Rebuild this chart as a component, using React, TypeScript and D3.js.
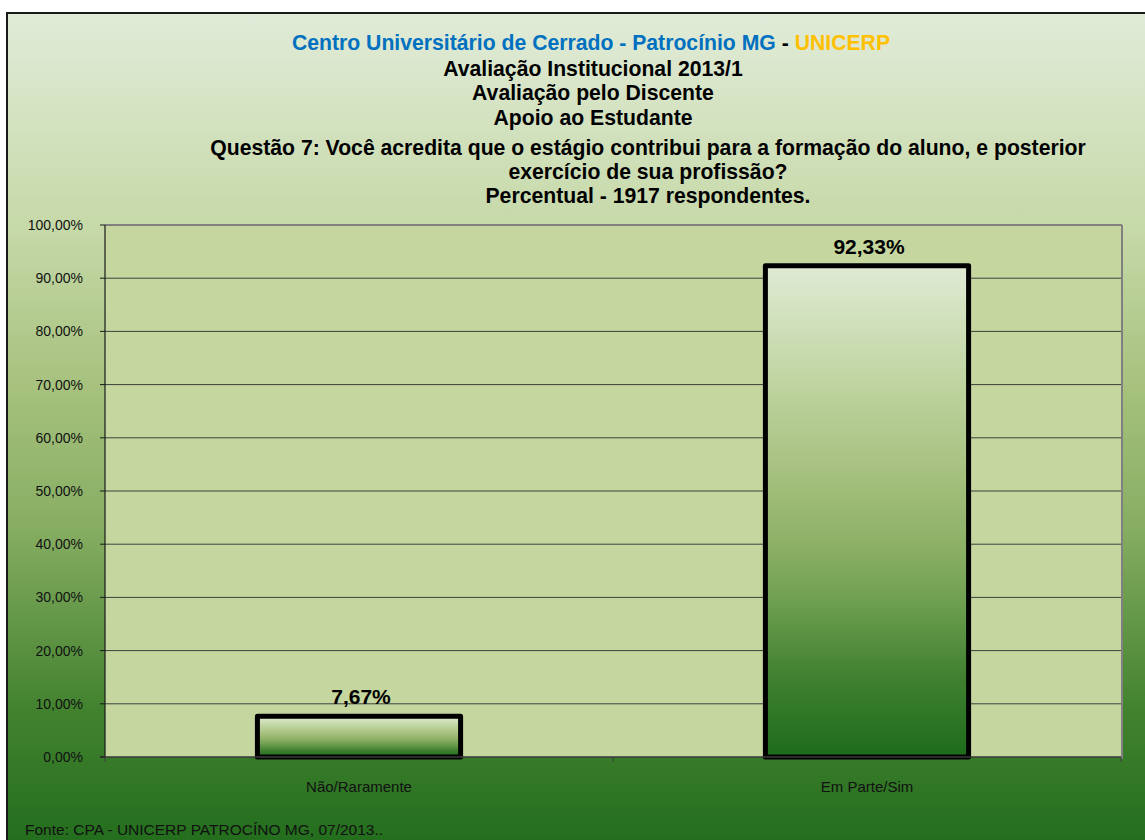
import React from "react";
import * as d3 from "d3";

const categories = ["Não/Raramente", "Em Parte/Sim"];
const values = [7.67, 92.33];
const yTicks = [0, 10, 20, 30, 40, 50, 60, 70, 80, 90, 100];
const titleHeader = ["Avaliação Institucional 2013/1", "Avaliação pelo Discente", "Apoio ao Estudante"];
const questionLines = [
  "Questão 7: Você acredita que o estágio contribui para a formação do aluno, e posterior",
  "exercício de sua profissão?",
  "Percentual - 1917 respondentes.",
];
const footer = "Fonte: CPA - UNICERP PATROCÍNO MG, 07/2013..";

const W = 1145;
const H = 840;
const plot = { left: 105, right: 1121, top: 225, bottom: 757 };
const FONT = "'Liberation Sans', Arial, sans-serif";
const TITLE_SIZE = 21.2;

const fmt = (v: number) => v.toFixed(2).replace(".", ",") + "%";

export default function App() {
  const x = d3
    .scaleBand<string>()
    .domain(categories)
    .range([plot.left, plot.right])
    .paddingInner(0.6)
    .paddingOuter(0.3);
  const y = d3.scaleLinear().domain([0, 100]).range([plot.bottom, plot.top]);
  const step = x.step();
  const catBounds = [plot.left, ...categories.map((c) => (x(c) as number) - step * 0.3 + step)];

  return (
    <svg
      width={W}
      height={H}
      style={{ position: "absolute", left: 0, top: 0, display: "block" }}
      fontFamily={FONT}
    >
      <defs>
        <linearGradient id="bg" x1="0" y1="0" x2="0" y2="1">
          <stop offset="0" stopColor="#e1ebd8" />
          <stop offset="0.25" stopColor="#c6d9a8" />
          <stop offset="0.44" stopColor="#a5c17c" />
          <stop offset="0.6" stopColor="#86ad62" />
          <stop offset="0.81" stopColor="#42822f" />
          <stop offset="1" stopColor="#1c691a" />
        </linearGradient>
        <linearGradient id="barg" x1="0" y1="0" x2="0" y2="1">
          <stop offset="0" stopColor="#e0ead4" />
          <stop offset="0.23" stopColor="#c0d5a2" />
          <stop offset="0.44" stopColor="#a3bf7b" />
          <stop offset="0.58" stopColor="#8aae64" />
          <stop offset="0.68" stopColor="#6fa050" />
          <stop offset="0.84" stopColor="#3f8030" />
          <stop offset="1" stopColor="#1d6c1b" />
        </linearGradient>
      </defs>
      <rect x={0} y={0} width={W} height={H} fill="#ffffff" />
      <rect x={7} y={13} width={W + 20} height={H + 20} fill="url(#bg)" stroke="#1a1a1a" strokeWidth={2} />

      {/* plot area */}
      <rect
        x={plot.left}
        y={plot.top}
        width={plot.right - plot.left}
        height={plot.bottom - plot.top}
        fill="#c5d79e"
      />
      {/* gridlines */}
      {yTicks.slice(1, -1).map((t) => (
        <line key={t} x1={plot.left} x2={plot.right} y1={y(t)} y2={y(t)} stroke="#3f3f3f" strokeWidth={1} />
      ))}
      {/* plot border top/right */}
      <line x1={plot.left} x2={plot.right + 1} y1={plot.top} y2={plot.top} stroke="#808080" strokeWidth={2} />
      <line x1={plot.right + 1} x2={plot.right + 1} y1={plot.top} y2={plot.bottom + 2} stroke="#808080" strokeWidth={2} />

      {/* bars */}
      {categories.map((c, i) => (
        <rect
          key={c}
          x={x(c)}
          y={y(values[i])}
          width={x.bandwidth()}
          height={y(0) - y(values[i])}
          fill="url(#barg)"
          stroke="#000"
          strokeWidth={5}
          strokeLinejoin="round"
        />
      ))}

      {/* axes */}
      <line x1={plot.left} x2={plot.left} y1={plot.top} y2={plot.bottom} stroke="#1a1a1a" strokeWidth={1.2} />
      <line x1={plot.left - 5} x2={plot.right} y1={plot.bottom} y2={plot.bottom} stroke="#3a3a3a" strokeWidth={1.5} />
      {yTicks.map((t) => (
        <g key={t}>
          <line x1={plot.left - 5} x2={plot.left} y1={y(t)} y2={y(t)} stroke="#1a1a1a" strokeWidth={1} />
          <text x={83} y={y(t)} dy="0.35em" textAnchor="end" fontSize={14} fill="#111">
            {fmt(t)}
          </text>
        </g>
      ))}
      {catBounds.map((b, i) => (
        <line key={i} x1={b} x2={b} y1={plot.bottom} y2={plot.bottom + 5} stroke="#3a3a3a" strokeWidth={1} />
      ))}
      {categories.map((c) => (
        <text
          key={c}
          x={(x(c) as number) + x.bandwidth() / 2}
          y={792}
          textAnchor="middle"
          fontSize={15}
          fill="#111"
        >
          {c}
        </text>
      ))}

      {/* data labels */}
      {categories.map((c, i) => (
        <text
          key={c}
          x={(x(c) as number) + x.bandwidth() / 2 + 2}
          y={y(values[i]) - 12}
          textAnchor="middle"
          fontSize={21}
          fontWeight="bold"
          fill="#000"
        >
          {fmt(values[i])}
        </text>
      ))}

      {/* titles */}
      <text x={591} y={50} textAnchor="middle" fontSize={TITLE_SIZE} fontWeight="bold">
        <tspan fill="#0070c0">Centro Universitário de Cerrado - Patrocínio MG</tspan>
        <tspan fill="#000"> - </tspan>
        <tspan fill="#ffc000">UNICERP</tspan>
      </text>
      {titleHeader.map((t, i) => (
        <text key={t} x={593} y={76 + i * 24.3} textAnchor="middle" fontSize={TITLE_SIZE} fontWeight="bold" fill="#000">
          {t}
        </text>
      ))}
      {questionLines.map((t, i) => (
        <text key={t} x={648} y={155 + i * 24} textAnchor="middle" fontSize={TITLE_SIZE} fontWeight="bold" fill="#000">
          {t}
        </text>
      ))}

      <text x={25} y={835} fontSize={15.5} fill="#111">
        {footer}
      </text>
    </svg>
  );
}
